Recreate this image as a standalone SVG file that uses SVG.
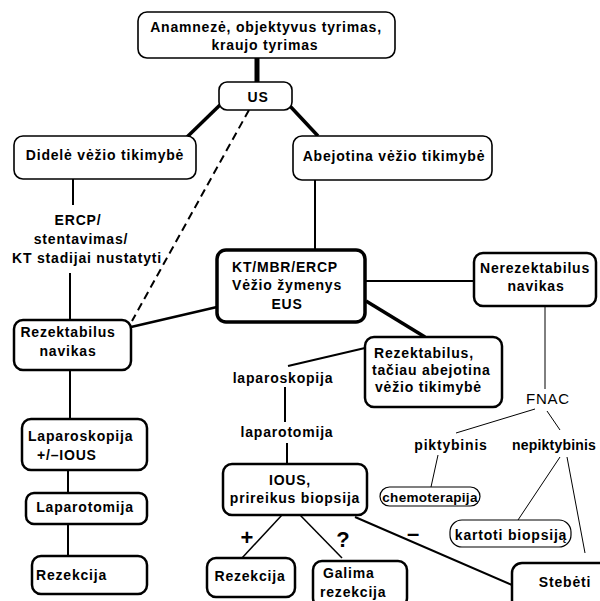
<svg xmlns="http://www.w3.org/2000/svg" width="600" height="601" viewBox="0 0 600 601">
<style>
.bx{fill:#fff;stroke:#000;stroke-width:2.5}
.b1{stroke-width:1.6}
.b3{stroke-width:3.5}
.pill{fill:#fff;stroke:#000;stroke-width:1.2}
text{font-family:"Liberation Sans",Arial,sans-serif;font-weight:bold;font-size:14px;letter-spacing:0.8px;fill:#000}
.c{text-anchor:middle}
.sm{font-size:13.5px;letter-spacing:0.3px}
.big{font-size:22px;letter-spacing:0}
.n{font-weight:normal;font-size:15px}
.tight{letter-spacing:0.2px}
#connectors line{stroke:#000;fill:none}
</style>
<rect width="600" height="601" fill="#fff"/>
<g id="connectors">
<line x1="257" y1="58" x2="257" y2="82" stroke-width="5"/>
<line x1="221" y1="104" x2="187" y2="137" stroke-width="3.5"/>
<line x1="289" y1="105" x2="318" y2="136" stroke-width="3.5"/>
<line x1="249" y1="110" x2="132" y2="321" stroke-width="2" stroke-dasharray="8,5"/>
<line x1="73" y1="179" x2="73" y2="205" stroke-width="2"/>
<line x1="70" y1="273" x2="70" y2="320" stroke-width="2"/>
<line x1="131" y1="327" x2="217" y2="307" stroke-width="2.5"/>
<line x1="315" y1="180" x2="315" y2="250" stroke-width="2"/>
<line x1="365" y1="281" x2="474" y2="281" stroke-width="2"/>
<line x1="366" y1="301" x2="425" y2="337" stroke-width="3.5"/>
<line x1="365" y1="348" x2="288" y2="366" stroke-width="2"/>
<line x1="285" y1="387" x2="285" y2="422" stroke-width="2"/>
<line x1="287" y1="443" x2="287" y2="464" stroke-width="2"/>
<line x1="282" y1="515" x2="242" y2="558" stroke-width="1.5"/>
<line x1="300" y1="515" x2="342" y2="558" stroke-width="1.5"/>
<line x1="355" y1="517" x2="512" y2="585" stroke-width="2"/>
<line x1="545" y1="306" x2="545" y2="389" stroke-width="1"/>
<line x1="535" y1="409" x2="456" y2="433" stroke-width="1"/>
<line x1="547" y1="411" x2="560" y2="430" stroke-width="1"/>
<line x1="438" y1="455" x2="431" y2="487" stroke-width="1"/>
<line x1="560" y1="457" x2="518" y2="520" stroke-width="1"/>
<line x1="567" y1="457" x2="585" y2="553" stroke-width="1"/>
<line x1="70" y1="370" x2="70" y2="419" stroke-width="2"/>
<line x1="68" y1="470" x2="68" y2="493" stroke-width="2"/>
<line x1="68" y1="524" x2="68" y2="556" stroke-width="2"/>
</g>
<g id="anamneze">
<rect class="bx b1" x="138" y="12" width="257" height="46" rx="9"/>
<text class="c" x="266" y="32">Anamnezė, objektyvus tyrimas,</text>
<text class="c" x="265" y="49.5">kraujo tyrimas</text>
</g>
<g id="us">
<rect class="bx b1" x="219" y="82" width="73" height="28" rx="8"/>
<text class="c" x="258" y="102">US</text>
</g>
<g id="didele">
<rect class="bx b1" x="14" y="136" width="182" height="43" rx="9"/>
<text class="c" x="105" y="160">Didelė vėžio tikimybė</text>
</g>
<g id="abejotina">
<rect class="bx b1" x="293" y="136" width="199" height="44" rx="9"/>
<text class="c" x="394" y="161">Abejotina vėžio tikimybė</text>
</g>
<g id="ercp">
<text class="c" x="78" y="225">ERCP/</text>
<text class="c" x="81" y="244">stentavimas/</text>
<text class="c" x="87" y="263">KT stadijai nustatyti</text>
</g>
<g id="kt">
<rect class="bx b3" x="217" y="250" width="148" height="72" rx="9"/>
<text class="c" x="285" y="272">KT/MBR/ERCP</text>
<text class="c" x="287" y="290">Vėžio žymenys</text>
<text class="c" x="287" y="309">EUS</text>
</g>
<g id="nerezektabilus">
<rect class="bx" x="474" y="253" width="122" height="53" rx="9"/>
<text class="c" x="535" y="273">Nerezektabilus</text>
<text class="c" x="536" y="291">navikas</text>
</g>
<g id="rezektabilus">
<rect class="bx" x="14" y="320" width="117" height="50" rx="9"/>
<text class="c" x="68" y="337">Rezektabilus</text>
<text class="c" x="68" y="356">navikas</text>
</g>
<g id="rezektabilus-abejotina">
<rect class="bx" x="365" y="337" width="137" height="70" rx="9"/>
<text x="374" y="358">Rezektabilus,</text>
<text x="372" y="375">tačiau abejotina</text>
<text x="375" y="392">vėžio tikimybė</text>
</g>
<g id="laparoskopija-txt">
<text class="c" x="283" y="383">laparoskopija</text>
</g>
<g id="laparotomija-txt">
<text class="c" x="287" y="437">laparotomija</text>
</g>
<g id="fnac">
<text class="c n" x="548" y="404">FNAC</text>
</g>
<g id="piktybinis">
<text class="c" x="451" y="450">piktybinis</text>
</g>
<g id="nepiktybinis">
<text class="tight" x="512" y="450">nepiktybinis</text>
</g>
<g id="chemoterapija">
<rect class="pill" x="380" y="487" width="100" height="19" rx="9.5"/>
<text class="c sm" x="430" y="502">chemoterapija</text>
</g>
<g id="kartoti">
<rect class="pill" x="450" y="520" width="121" height="27" rx="12"/>
<text class="c" x="511" y="540">kartoti biopsiją</text>
</g>
<g id="laparoskopija-box">
<rect class="bx" x="22" y="419" width="125" height="51" rx="9"/>
<text x="28" y="441">Laparoskopija</text>
<text x="37" y="460">+/–IOUS</text>
</g>
<g id="laparotomija-box">
<rect class="bx" x="26" y="493" width="121" height="31" rx="8"/>
<text class="c" x="85" y="512">Laparotomija</text>
</g>
<g id="rezekcija-left">
<rect class="bx" x="32" y="556" width="115" height="38" rx="9"/>
<text x="36" y="580">Rezekcija</text>
</g>
<g id="ious">
<rect class="bx" x="223" y="464" width="144" height="51" rx="9"/>
<text class="c" x="290" y="485">IOUS,</text>
<text class="c" x="295" y="503">prireikus biopsija</text>
</g>
<g id="labels">
<text class="c big" x="247" y="545">+</text>
<text class="c big" x="343" y="547">?</text>
<text class="c big" x="413" y="541">–</text>
</g>
<g id="rezekcija-mid">
<rect class="bx" x="207" y="558" width="88" height="39" rx="9"/>
<text class="c" x="250" y="581">Rezekcija</text>
</g>
<g id="galima">
<rect class="bx" x="313" y="561" width="94" height="46" rx="9"/>
<text x="323" y="578">Galima</text>
<text x="320" y="597">rezekcija</text>
</g>
<g id="stebeti">
<rect class="bx" x="512" y="563" width="100" height="50" rx="10"/>
<text class="c" x="565" y="587">Stebėti</text>
</g>
</svg>
